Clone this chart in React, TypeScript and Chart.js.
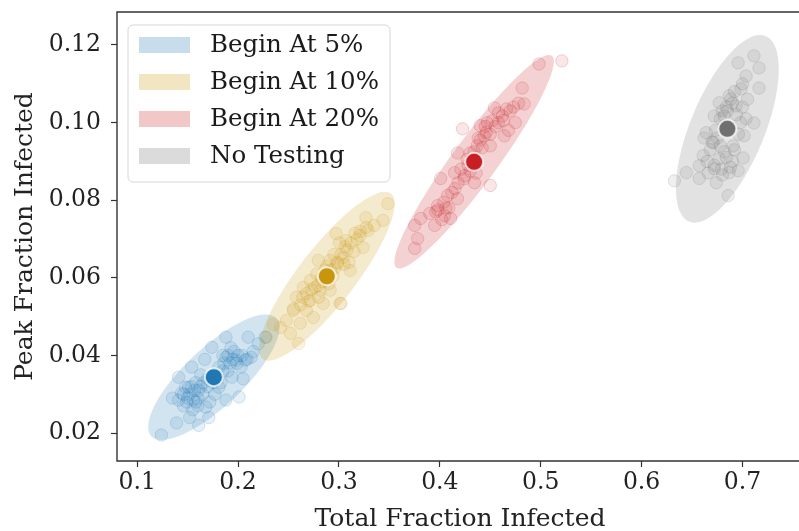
import React, { useEffect, useRef } from "react";
import { Chart, registerables } from "chart.js";

Chart.register(...registerables);

// ---- data ----
const seriesLabels = ["Begin At 5%", "Begin At 10%", "Begin At 20%", "No Testing"];

const begin5Points: number[][] = [
  [0.124, 0.0195], [0.139, 0.0226], [0.161, 0.022], [0.171, 0.024], [0.144, 0.0303],
  [0.151, 0.0318], [0.156, 0.0285], [0.141, 0.0285], [0.161, 0.031], [0.181, 0.0318],
  [0.194, 0.0344], [0.198, 0.0388], [0.207, 0.0388], [0.188, 0.0395], [0.181, 0.037],
  [0.174, 0.0421], [0.188, 0.0447], [0.21, 0.0447], [0.227, 0.0447], [0.213, 0.0395],
  [0.154, 0.037], [0.141, 0.0344], [0.201, 0.0293], [0.168, 0.0267], [0.148, 0.0318],
  [0.188, 0.0285], [0.15, 0.029], [0.146, 0.027], [0.158, 0.033], [0.165, 0.03],
  [0.17, 0.032], [0.185, 0.04], [0.192, 0.038], [0.2, 0.04], [0.203, 0.037],
  [0.196, 0.041], [0.178, 0.035], [0.172, 0.028], [0.163, 0.035], [0.155, 0.026],
  [0.183, 0.033], [0.19, 0.036], [0.215, 0.041], [0.167, 0.039], [0.135, 0.029],
  [0.152, 0.024], [0.177, 0.03], [0.205, 0.034], [0.16, 0.027], [0.22, 0.043],
  [0.152, 0.03], [0.157, 0.031], [0.149, 0.028], [0.16, 0.029], [0.154, 0.032],
  [0.146, 0.03], [0.158, 0.028], [0.163, 0.032], [0.195, 0.039], [0.199, 0.038],
  [0.204, 0.04], [0.19, 0.04], [0.209, 0.039], [0.193, 0.042], [0.186, 0.038],
  [0.17, 0.034], [0.166, 0.033], [0.18, 0.034], [0.175, 0.033], [0.185, 0.036],
];

const begin10Points: number[][] = [
  [0.3485, 0.0791], [0.3436, 0.0748], [0.3268, 0.0755], [0.3288, 0.0722], [0.3209, 0.0709],
  [0.3071, 0.0696], [0.2972, 0.0714], [0.3239, 0.0678], [0.3041, 0.0652], [0.2913, 0.0645],
  [0.2795, 0.0645], [0.311, 0.0619], [0.299, 0.0637], [0.2716, 0.0593], [0.2647, 0.0575],
  [0.2815, 0.0568], [0.2913, 0.0568], [0.2578, 0.055], [0.2716, 0.0542], [0.2844, 0.0534],
  [0.3012, 0.0534], [0.2548, 0.0516], [0.2677, 0.0516], [0.2479, 0.049], [0.2617, 0.0483],
  [0.2746, 0.0498], [0.242, 0.0472], [0.235, 0.048], [0.2519, 0.0457], [0.228, 0.0447],
  [0.26, 0.0431], [0.302, 0.0534], [0.315, 0.0668], [0.308, 0.0672], [0.295, 0.066],
  [0.286, 0.062], [0.278, 0.061], [0.29, 0.0585], [0.296, 0.0625], [0.268, 0.056],
  [0.276, 0.0575], [0.262, 0.053], [0.283, 0.06], [0.305, 0.0635], [0.318, 0.07],
  [0.335, 0.0735], [0.3005, 0.069], [0.306, 0.068], [0.312, 0.069], [0.302, 0.066],
  [0.298, 0.064], [0.292, 0.062], [0.284, 0.059], [0.279, 0.058], [0.273, 0.057],
  [0.288, 0.063], [0.31, 0.064], [0.321, 0.072], [0.327, 0.073], [0.264, 0.055],
  [0.27, 0.054], [0.28, 0.055], [0.294, 0.0605], [0.316, 0.0715], [0.255, 0.052],
];

const begin20Points: number[][] = [
  [0.4984, 0.1151], [0.521, 0.1159], [0.4817, 0.1089], [0.4836, 0.1048], [0.4698, 0.103],
  [0.4748, 0.1], [0.454, 0.1038], [0.447, 0.1], [0.462, 0.1017], [0.464, 0.0966],
  [0.444, 0.0966], [0.45, 0.094], [0.437, 0.094], [0.43, 0.0922], [0.4176, 0.0922],
  [0.4245, 0.0863], [0.4343, 0.0845], [0.45, 0.0838], [0.4146, 0.0871], [0.4008, 0.0856],
  [0.4077, 0.0812], [0.4176, 0.0804], [0.3978, 0.0786], [0.39, 0.0766], [0.4047, 0.076],
  [0.4107, 0.0753], [0.381, 0.0753], [0.3949, 0.0735], [0.3751, 0.0735], [0.378, 0.0701],
  [0.3751, 0.0676], [0.4225, 0.0984], [0.44, 0.0992], [0.455, 0.099], [0.44, 0.0955],
  [0.446, 0.0975], [0.452, 0.1005], [0.458, 0.1025], [0.428, 0.089], [0.421, 0.088],
  [0.436, 0.087], [0.404, 0.0795], [0.409, 0.078], [0.396, 0.077], [0.415, 0.083],
  [0.468, 0.098], [0.473, 0.104], [0.445, 0.099], [0.45, 0.097], [0.442, 0.0935],
  [0.434, 0.0925], [0.427, 0.0905], [0.438, 0.096], [0.458, 0.1], [0.463, 0.1005],
  [0.43, 0.0875], [0.412, 0.082], [0.406, 0.078], [0.398, 0.0775], [0.402, 0.075],
  [0.418, 0.0845], [0.424, 0.0855], [0.466, 0.1035], [0.478, 0.105],
];

const noTestingPoints: number[][] = [
  [0.7114, 0.1172], [0.7164, 0.1141], [0.6957, 0.1154], [0.7036, 0.112], [0.7164, 0.1089],
  [0.6986, 0.1087], [0.6868, 0.1069], [0.677, 0.1051], [0.6937, 0.1043], [0.672, 0.1017],
  [0.7036, 0.101], [0.7114, 0.0999], [0.6641, 0.0974], [0.671, 0.0948], [0.6907, 0.094],
  [0.7016, 0.0966], [0.6611, 0.0915], [0.677, 0.0907], [0.7006, 0.0909], [0.6572, 0.0889],
  [0.672, 0.0881], [0.6868, 0.0871], [0.6957, 0.0876], [0.6444, 0.0871], [0.6325, 0.085],
  [0.6572, 0.0856], [0.674, 0.0845], [0.6858, 0.0812], [0.6818, 0.0992], [0.6887, 0.1061],
  [0.6818, 0.1017], [0.684, 0.104], [0.692, 0.108], [0.68, 0.103], [0.675, 0.096],
  [0.668, 0.093], [0.682, 0.0925], [0.69, 0.09], [0.665, 0.09], [0.679, 0.088],
  [0.698, 0.1], [0.705, 0.106], [0.7, 0.11], [0.662, 0.096], [0.685, 0.103],
  [0.69, 0.105], [0.694, 0.102], [0.678, 0.101], [0.673, 0.098], [0.67, 0.095],
  [0.678, 0.094], [0.684, 0.091], [0.692, 0.093], [0.672, 0.089], [0.68, 0.0865],
  [0.688, 0.0885], [0.696, 0.097], [0.7, 0.104], [0.666, 0.087],
];

const meanPoints: number[][] = [
  [0.176, 0.0344], [0.288, 0.0604], [0.434, 0.0899], [0.685, 0.0984],
];

// end of the major axis of each confidence ellipse, and minor/major ratio
const ellipseTips: number[][] = [
  [0.238, 0.0496], [0.3515, 0.0817], [0.511, 0.1172], [0.723, 0.1223],
];
const ellipseRatios = [0.34, 0.27, 0.17, 0.37];

const xTicks = [0.1, 0.2, 0.3, 0.4, 0.5, 0.6, 0.7];
const yTicks = [0.02, 0.04, 0.06, 0.08, 0.1, 0.12];

// ---- style ----
const rgb = [
  [31, 119, 180],
  [200, 150, 12],
  [200, 30, 36],
  [112, 112, 112],
];
const rgba = (i: number, a: number) => `rgba(${rgb[i][0]},${rgb[i][1]},${rgb[i][2]},${a})`;
const FONT = "'DejaVu Serif', serif";
const TICK_FS = 23.5;
const TITLE_FS = 25;
const LEGEND_FS = 24.5;

const ellipsePlugin = {
  id: "ellipses",
  beforeDatasetsDraw(chart: any) {
    const { ctx, chartArea, scales } = chart;
    const xs = scales.x;
    const ys = scales.y;
    ctx.save();
    ctx.beginPath();
    ctx.rect(chartArea.left, chartArea.top, chartArea.right - chartArea.left, chartArea.bottom - chartArea.top);
    ctx.clip();
    meanPoints.forEach((m, i) => {
      const cx = xs.getPixelForValue(m[0]);
      const cy = ys.getPixelForValue(m[1]);
      const tx = xs.getPixelForValue(ellipseTips[i][0]);
      const ty = ys.getPixelForValue(ellipseTips[i][1]);
      const a = Math.hypot(tx - cx, ty - cy);
      const ang = Math.atan2(ty - cy, tx - cx);
      ctx.beginPath();
      ctx.ellipse(cx, cy, a, a * ellipseRatios[i], ang, 0, Math.PI * 2);
      ctx.fillStyle = rgba(i, 0.2);
      ctx.fill();
    });
    ctx.restore();
  },
  afterDraw(chart: any) {
    const { ctx, chartArea } = chart;
    ctx.save();
    // frame: left, top, bottom spines (right spine lies outside the picture)
    ctx.strokeStyle = "#333333";
    ctx.lineWidth = 1.4;
    ctx.beginPath();
    ctx.moveTo(chartArea.right + 20, chartArea.top);
    ctx.lineTo(chartArea.left, chartArea.top);
    ctx.lineTo(chartArea.left, chartArea.bottom);
    ctx.lineTo(chartArea.right + 20, chartArea.bottom);
    ctx.stroke();
    // legend
    const lx = 128, ly = 25, lw = 262, lh = 157, r = 5;
    ctx.beginPath();
    ctx.moveTo(lx + r, ly);
    ctx.arcTo(lx + lw, ly, lx + lw, ly + lh, r);
    ctx.arcTo(lx + lw, ly + lh, lx, ly + lh, r);
    ctx.arcTo(lx, ly + lh, lx, ly, r);
    ctx.arcTo(lx, ly, lx + lw, ly, r);
    ctx.closePath();
    ctx.fillStyle = "rgba(255,255,255,0.8)";
    ctx.fill();
    ctx.strokeStyle = "#d6d6d6";
    ctx.lineWidth = 1;
    ctx.stroke();
    ctx.font = `${LEGEND_FS}px ${FONT}`;
    ctx.textBaseline = "middle";
    ctx.textAlign = "left";
    seriesLabels.forEach((label, i) => {
      const cy = 45 + i * 37;
      ctx.fillStyle = rgba(i, 0.25);
      ctx.fillRect(139, cy - 8, 51, 16);
      ctx.fillStyle = "#1a1a1a";
      ctx.fillText(label, 210, cy + 1);
    });
    ctx.restore();
  },
};

export default function App() {
  const ref = useRef<HTMLCanvasElement | null>(null);
  useEffect(() => {
    if (!ref.current) return;
    const clouds = [begin5Points, begin10Points, begin20Points, noTestingPoints];
    const meanSets = meanPoints.map((m, i) => ({
      label: seriesLabels[i] + " mean",
      data: [{ x: m[0], y: m[1] }],
      pointRadius: 9,
      pointBackgroundColor: rgba(i, 1),
      pointBorderColor: "rgba(255,255,255,0.75)",
      pointBorderWidth: 2,
      showLine: false,
    }));
    const cloudSets = clouds.map((pts, i) => ({
      label: seriesLabels[i],
      data: pts.map((p) => ({ x: p[0], y: p[1] })),
      pointRadius: 6.2,
      pointBackgroundColor: rgba(i, 0.11),
      pointBorderColor: rgba(i, 0.18),
      pointBorderWidth: 1,
      showLine: false,
    }));
    const tickFont = { family: FONT, size: TICK_FS };
    const chart = new Chart(ref.current, {
      type: "scatter",
      data: { datasets: [...meanSets, ...cloudSets] as any },
      options: {
        animation: false,
        responsive: false,
        events: [],
        layout: { padding: { top: 12, right: 7, left: 0, bottom: 0 } },
        plugins: { legend: { display: false }, tooltip: { enabled: false } },
        scales: {
          x: {
            type: "linear",
            min: 0.08,
            max: 0.76,
            afterBuildTicks: (s: any) => {
              s.ticks = xTicks.map((v) => ({ value: v }));
            },
            afterFit: (s: any) => {
              s.height = 70;
              s.paddingLeft = 0;
              s.paddingRight = 0;
            },
            ticks: {
              callback: (v: any) => Number(v).toFixed(1),
              font: tickFont,
              color: "#222222",
              padding: 2,
              maxRotation: 0,
            },
            grid: { drawOnChartArea: false, tickLength: 6, tickColor: "#333333", tickWidth: 1.2 },
            border: { display: false },
            title: {
              display: true,
              text: "Total Fraction Infected",
              font: { family: FONT, size: TITLE_FS, lineHeight: 1 },
              color: "#222222",
              padding: { top: 0, bottom: -1 },
            },
          },
          y: {
            type: "linear",
            min: 0.0128,
            max: 0.1285,
            afterBuildTicks: (s: any) => {
              s.ticks = yTicks.map((v) => ({ value: v }));
            },
            afterFit: (s: any) => {
              s.width = 117;
              s.paddingTop = 0;
              s.paddingBottom = 0;
            },
            ticks: {
              callback: (v: any) => Number(v).toFixed(2),
              font: tickFont,
              color: "#222222",
              padding: 10,
            },
            grid: { drawOnChartArea: false, tickLength: 6, tickColor: "#333333", tickWidth: 1.2 },
            border: { display: false },
            title: {
              display: true,
              text: "Peak Fraction Infected",
              font: { family: FONT, size: TITLE_FS, lineHeight: 1 },
              color: "#222222",
              padding: { top: 13, bottom: 0 },
            },
          },
        },
      },
      plugins: [ellipsePlugin],
    });
    return () => chart.destroy();
  }, []);
  return (
    <div
      style={{
        position: "fixed",
        left: 0,
        top: 0,
        width: 799,
        height: 531,
        overflow: "hidden",
        background: "#ffffff",
      }}
    >
      <canvas ref={ref} width={814} height={531} style={{ display: "block" }} />
    </div>
  );
}
